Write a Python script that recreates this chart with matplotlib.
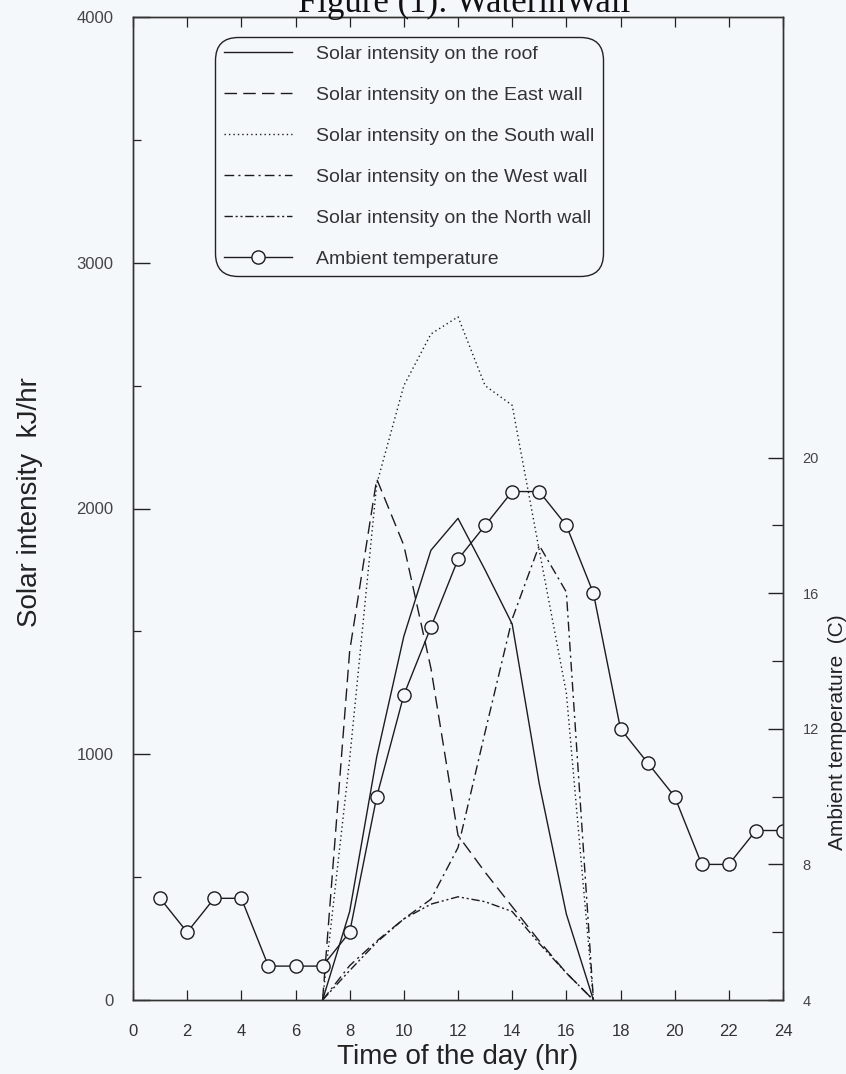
import matplotlib
matplotlib.use("Agg")
import matplotlib.pyplot as plt
from matplotlib.ticker import MultipleLocator

# Data
hours_temp = list(range(1, 25))
ambient_temp = [7, 6, 7, 7, 5, 5, 5, 6, 10, 13, 15, 17,
                18, 19, 19, 18, 16, 12, 11, 10, 8, 8, 9, 9]

hours_sun = list(range(7, 18))
roof = [0, 360, 990, 1480, 1830, 1960, 1750, 1530, 880, 350, 0]
east = [0, 1420, 2120, 1850, 1350, 670, 520, 380, 240, 110, 0]
south = [0, 980, 2100, 2500, 2710, 2780, 2500, 2420, 1830, 1250, 0]
west = [0, 140, 240, 330, 410, 620, 1090, 1550, 1850, 1660, 0]
north = [0, 120, 235, 330, 390, 420, 400, 360, 230, 110, 0]

labels = ["Solar intensity on the roof",
          "Solar intensity on the East wall",
          "Solar intensity on the South wall",
          "Solar intensity on the West wall",
          "Solar intensity on the North wall",
          "Ambient temperature"]

bg = "#f5f8fb"
ink = "#1c1c1c"
sans = ["Liberation Sans", "DejaVu Sans"]
plt.rcParams["font.family"] = sans

fig = plt.figure(figsize=(8.46, 10.74), dpi=100, facecolor=bg)
ax = fig.add_axes([133 / 846, 1 - 1000 / 1074, 650 / 846, 983 / 1074])
ax.set_facecolor(bg)

lw = 1.0
h_roof, = ax.plot(hours_sun, roof, color=ink, lw=lw, ls="-")
h_east, = ax.plot(hours_sun, east, color=ink, lw=lw, ls=(0, (9, 4.5)))
h_south, = ax.plot(hours_sun, south, color=ink, lw=lw, ls=(0, (1, 2.2)))
h_west, = ax.plot(hours_sun, west, color=ink, lw=lw, ls=(0, (7, 3, 1.5, 3)))
h_north, = ax.plot(hours_sun, north, color=ink, lw=lw,
                   ls=(0, (6, 2, 1.5, 2, 1.5, 2)))

ax.set_xlim(0, 24)
ax.set_ylim(0, 4000)
ax.xaxis.set_major_locator(MultipleLocator(2))
ax.yaxis.set_major_locator(MultipleLocator(1000))
ax.yaxis.set_minor_locator(MultipleLocator(500))
ax.tick_params(axis="x", direction="in", length=7, width=0.9, top=True,
               labelsize=12, pad=17, colors="#222", labelcolor="#333")
ax.tick_params(axis="y", which="major", direction="in", length=12, width=1.0,
               labelsize=12, pad=14, colors="#222", labelcolor="#444")
ax.tick_params(axis="y", which="minor", direction="in", length=6, width=0.9,
               colors="#222")
for s in ax.spines.values():
    s.set_color("#333")
    s.set_linewidth(1.0)

ax2 = ax.twinx()
h_temp, = ax2.plot(hours_temp, ambient_temp, color=ink, lw=lw, marker="o",
                   ms=9.5, mfc=bg, mec=ink, mew=1.0)
ax2.set_ylim(4, 33)
ax2.set_yticks([4, 8, 12, 16, 20])
ax2.set_yticks([6, 10, 14, 18], minor=True)
ax2.tick_params(axis="y", which="major", direction="in", length=11, width=1.0,
                labelsize=10.5, pad=14, colors="#222", labelcolor="#444")
ax2.tick_params(axis="y", which="minor", direction="in", length=8, width=0.9,
                colors="#222")
for s in ax2.spines.values():
    s.set_color("#333")
    s.set_linewidth(1.0)

ax.set_xlabel("Time of the day (hr)", fontsize=20, labelpad=4, color="#222")
fig.text(30 / 846, 1 - 502 / 1074, "Solar intensity  kJ/hr", rotation=90,
         ha="center", va="center", fontsize=20, color="#222")
fig.text(837 / 846, 1 - 732 / 1074, "Ambient temperature  (C)", rotation=90,
         ha="center", va="center", fontsize=15, color="#222")

fig.text(464 / 846, 1 - 12 / 1074, "Figure (1): WaterinWall",
         family=["Liberation Serif", "DejaVu Serif"], fontsize=25,
         ha="center", va="baseline", color="#111")

leg = ax.legend([h_roof, h_east, h_south, h_west, h_north, h_temp], labels,
                loc="upper left", bbox_to_anchor=(0.126, 0.98),
                borderaxespad=0, fontsize=14, handlelength=3.5,
                handletextpad=1.25, labelspacing=1.2, borderpad=0.45,
                numpoints=1, frameon=True, fancybox=True, framealpha=1,
                facecolor=bg, edgecolor="#222")
leg.get_frame().set_linewidth(1.0)
leg.get_frame().set_boxstyle("round", pad=0.0, rounding_size=1.2)
for t in leg.get_texts():
    t.set_color("#333")

fig.savefig("out.png", dpi=100, facecolor=bg)
